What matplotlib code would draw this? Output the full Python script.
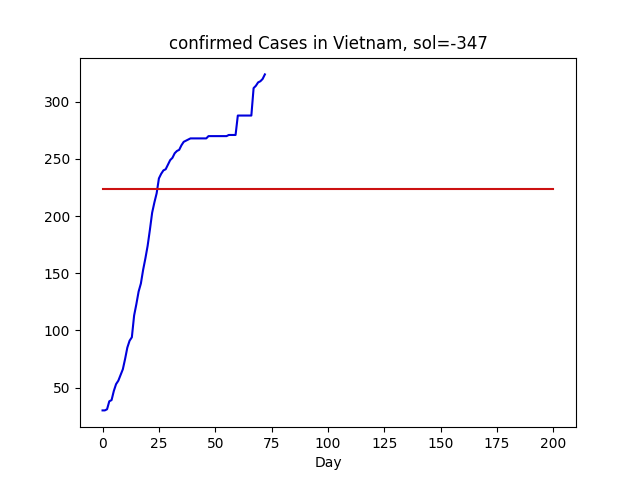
import numpy as np
import matplotlib
matplotlib.use('Agg')
import matplotlib.pyplot as plt

# Confirmed cases per day
cases = [30, 30, 31, 38, 39, 47, 53, 56, 61, 66,
         75, 85, 91, 94, 113, 123, 134, 141, 153, 163,
         174, 188, 203, 212, 220, 233, 237, 240, 241, 245,
         249, 251, 255, 257, 258, 262, 265, 266, 267,
         268, 268, 268, 268, 268, 268, 268, 268,
         270, 270, 270, 270, 270, 270, 270, 270, 270,
         271, 271, 271, 271,
         288, 288, 288, 288, 288, 288, 288,
         312, 314, 317, 318, 320, 324]
days = list(range(len(cases)))

# Constant level drawn over the whole horizon
levelDays = [0, 200]
levelValue = [223.5, 223.5]

plt.figure(figsize=(6.4, 4.8), dpi=100)
plt.plot(days, cases, color='#0000dd')
plt.plot(levelDays, levelValue, color='#cc1111')
plt.title('confirmed Cases in Vietnam, sol=-347')
plt.xlabel('Day')
plt.savefig('out.png')
plt.close()
